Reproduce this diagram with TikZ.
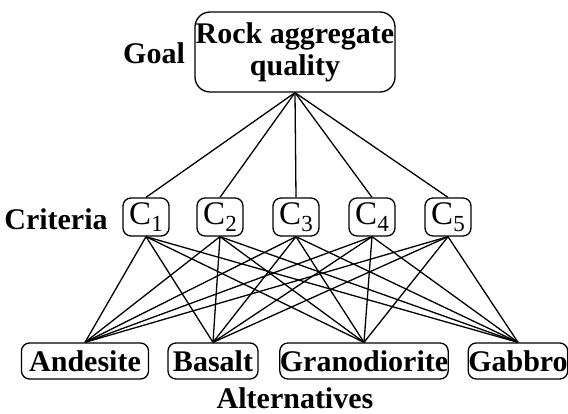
\documentclass[tikz,border=0pt]{standalone}
\usepackage{fontspec}
\setmainfont{Liberation Serif}
\newcommand{\csub}[1]{{\fontsize{33}{33}\selectfont C}\raisebox{-0.5ex}{\fontsize{23}{23}\selectfont #1}}
\begin{document}
\begin{tikzpicture}[x=1pt,y=-1pt,
  every node/.style={font=\fontsize{30}{32}\selectfont},
  lbl/.style={font=\fontsize{30}{32}\selectfont\bfseries},
  goalbox/.style={draw,line width=1.3pt,rounded corners=15pt,minimum width=200pt,minimum height=80pt,align=center,inner sep=0pt,font=\fontsize{30}{32}\selectfont\bfseries},
  cbox/.style={draw,line width=1.3pt,rounded corners=8pt,minimum width=46pt,minimum height=38pt,inner sep=0pt},
  abox/.style={draw,line width=1.3pt,rounded corners=8pt,minimum height=36pt,inner sep=0pt,font=\fontsize{30}{32}\selectfont\bfseries},
  link/.style={line width=1.3pt}]
\useasboundingbox (0,0) rectangle (568,414);
\node[goalbox] (goal) at (295,52) {Rock aggregate\\quality};
\node[lbl] (goallbl) at (154,53) {Goal};
\node[lbl] (critlbl) at (56,219) {Criteria};
\node[cbox] (c1) at (146,217) {\csub{1}};
\node[cbox] (c2) at (220,217) {\csub{2}};
\node[cbox] (c3) at (296,217) {\csub{3}};
\node[cbox] (c4) at (372,217) {\csub{4}};
\node[cbox] (c5) at (448,217) {\csub{5}};
\node[abox,minimum width=127pt] (a1) at (85,361) {Andesite};
\node[abox,minimum width=90pt] (a2) at (213,361) {Basalt};
\node[abox,minimum width=168pt] (a3) at (364,361) {Granodiorite};
\node[abox,minimum width=96pt] (a4) at (518,361) {Gabbro};
\node[lbl] (altlbl) at (295,398) {Alternatives};
\foreach \c in {c1,c2,c3,c4,c5}{
  \draw[link] (goal.south) -- (\c.north);
  \foreach \a in {a1,a2,a3,a4}{
    \draw[link] (\c.south) -- (\a.north);
  }
}
\end{tikzpicture}
\end{document}
